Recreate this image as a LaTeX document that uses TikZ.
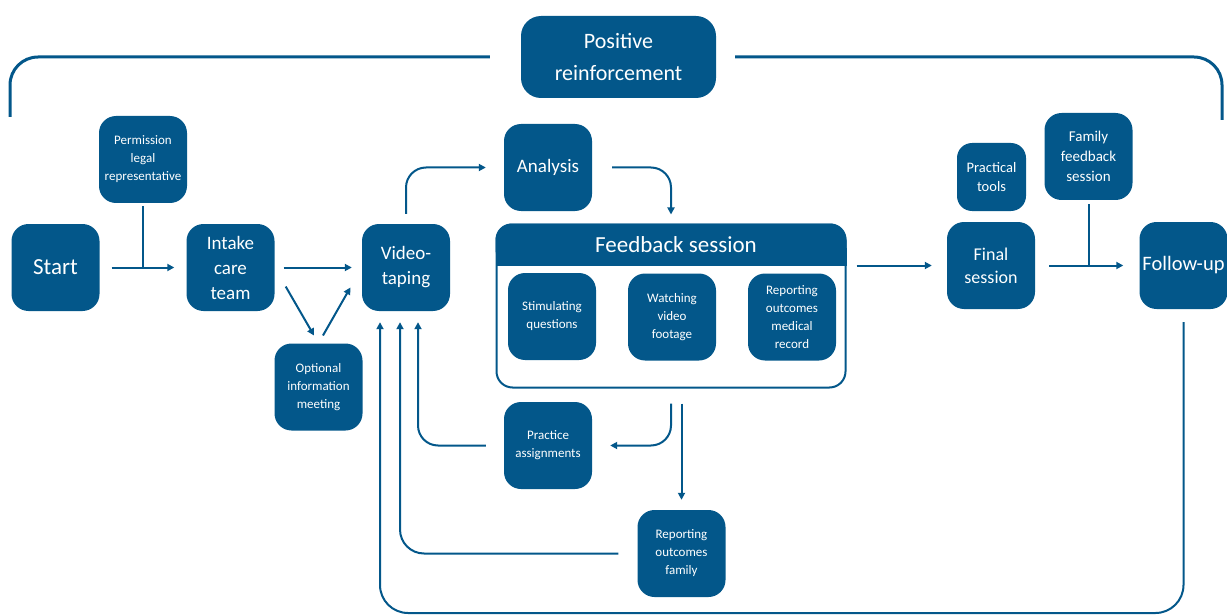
\documentclass[tikz,border=0pt]{standalone}
\usepackage{fontspec}
\setmainfont{Carlito}
\usepackage{tikz}
\usetikzlibrary{positioning, arrows.meta}
\definecolor{boxblue}{HTML}{03578A}

\begin{document}
\begin{tikzpicture}[x=1pt, y=-1pt,
  box/.style={fill=boxblue, text=white, rounded corners=17pt, align=center,
              minimum width=88pt, minimum height=87pt, inner sep=1pt},
  small/.style={font=\fontsize{13}{18}\selectfont},
  mid/.style={font=\fontsize{19}{25}\selectfont},
  big/.style={font=\fontsize{23}{28}\selectfont},
  link/.style={draw=boxblue, line width=2pt},
  arr/.style={link, -{Triangle[length=7pt, width=7pt]}}
]
\useasboundingbox (0,0) rectangle (1227,615);

% main line
\node[box, big] (start) at (55.5,267.5) {Start};
\node[box, small] (perm) at (143,159.5) {Permission\\legal\\representative};
\node[box, mid] (intake) at (230.5,267.5) {Intake\\care\\team};
\node[box, small] (optional) at (318.5,387) {Optional\\information\\meeting};
\node[box, mid] (video) at (406,267.5) {Video-\\taping};
\node[box, mid] (analysis) at (548,167.5) {Analysis};

% feedback session with its three parts
\node[draw=boxblue, line width=2pt, rounded corners=16pt,
      minimum width=349pt, minimum height=163pt] (fb) at (671,306) {};
\fill[boxblue, rounded corners=16pt] (fb.north west) rectangle ([yshift=-42pt]fb.north east);
\fill[boxblue] ([yshift=-24pt]fb.north west) rectangle ([yshift=-42pt]fb.north east);
\node[text=white, big] (fbhead) at ([xshift=5pt, yshift=-21pt]fb.north) {Feedback session};
\node[box, small] (stim) at (552,316.5) {Stimulating\\questions};
\node[box, small] (watch) at (672,317) {Watching\\video\\footage};
\node[box, small] (medrec) at (792,317) {Reporting\\outcomes\\medical\\record};

\node[box, small] (practice) at (548,445.5) {Practice\\assignments};
\node[box, small] (repfam) at (681.5,553.5) {Reporting\\outcomes\\family};

% closing part
\node[box, font=\fontsize{14.5}{19}\selectfont, minimum width=69pt,
      minimum height=68pt, rounded corners=15pt] (tools) at (991.5,177) {Practical\\tools};
\node[box, font=\fontsize{18}{23}\selectfont] (final) at (991,265.5) {Final\\session};
\node[box, font=\fontsize{15}{20}\selectfont] (famfb) at (1088.5,156.5) {Family\\feedback\\session};
\node[box, font=\fontsize{20.5}{26}\selectfont, inner sep=0pt, text width=88pt]
  (follow) at (1183.5,265.5) {Follow-up};

\node[box, font=\fontsize{22}{32}\selectfont, minimum width=195pt,
      minimum height=82pt, rounded corners=20pt] (pos) at (618.5,57) {Positive\\reinforcement};
\coordinate (brL) at (10,117);
\coordinate (brR) at (1222,120);
\coordinate (loopbot) at (0,613);

% bracket over the whole process
\draw[link, line width=3pt, rounded corners=28pt] ([xshift=-31pt]pos.west) -| (brL);
\draw[link, line width=3pt, rounded corners=28pt] ([xshift=19pt]pos.east) -| (brR);

% connectors
\draw[arr, shorten <=12pt, shorten >=12pt] (start) -- (intake);
\draw[link, shorten <=3pt] (perm.south) -- (perm.south |- start.east);
\draw[arr, shorten <=9pt, shorten >=10pt] (intake) -- (video);
\draw[arr, shorten <=22pt, shorten >=9pt] (intake.east) -- (optional.north);
\draw[arr, shorten <=9pt, shorten >=23pt] (optional.north) -- (video.west);
\draw[arr, rounded corners=20pt, shorten <=10pt, shorten >=18pt] (video.north) |- (analysis.west);
\draw[arr, rounded corners=20pt, shorten <=20pt, shorten >=9pt] (analysis.east) -| (fb.north);
\draw[arr, shorten <=10pt, shorten >=15pt] (fb.east |- final.west) -- (final.west);
\draw[arr, shorten <=14pt, shorten >=16pt] (final) -- (follow);
\draw[link, shorten <=4pt] (famfb.south) -- (famfb.south |- follow.west);

\draw[arr, rounded corners=20pt, shorten <=15pt, shorten >=18pt] (fb.south) |- (practice.east);
\draw[arr, shorten <=15pt, shorten >=10pt] (fb.south -| repfam.north) -- (repfam.north);
\draw[arr, rounded corners=20pt, shorten <=18pt, shorten >=11pt] (practice.west) -| ([xshift=12pt]video.south);
\draw[arr, rounded corners=24pt, shorten <=19pt, shorten >=11pt] (repfam.west) -| ([xshift=-6pt]video.south);
\draw[arr, rounded corners=28pt, shorten <=13pt, shorten >=11pt]
  (follow.south) -- (follow.south |- loopbot) -| ([xshift=-26pt]video.south);
\end{tikzpicture}
\end{document}
